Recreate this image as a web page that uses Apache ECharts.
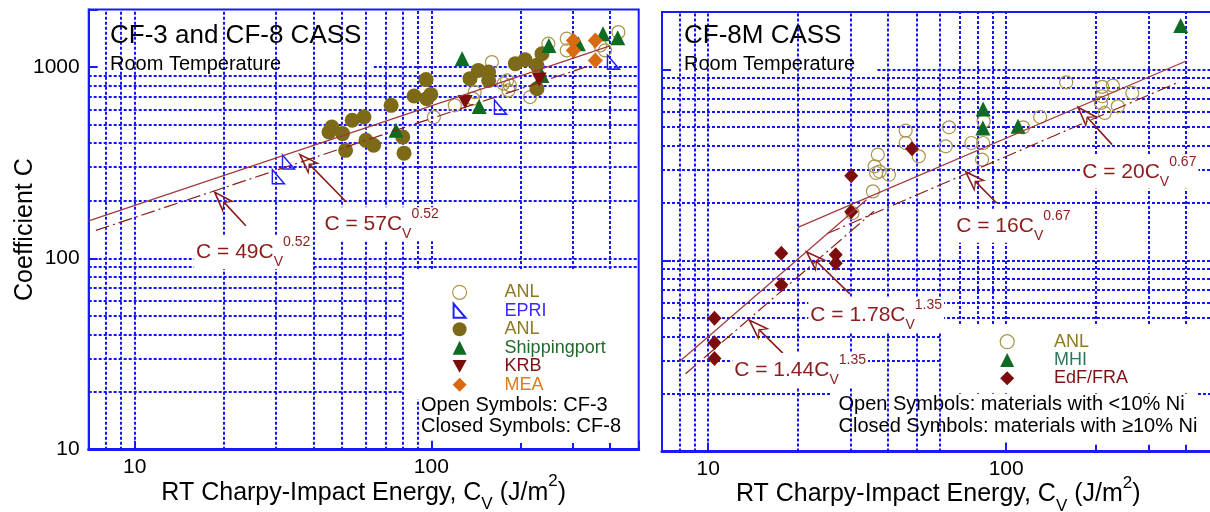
<!DOCTYPE html>
<html><head><meta charset="utf-8">
<script src="https://cdn.jsdelivr.net/npm/echarts@6/dist/echarts.min.js"></script>
<style>html,body{margin:0;padding:0;background:#fff}#c{width:1210px;height:512px}</style>
</head><body><div id="c"></div>
<script>
// ---------------- data ----------------
const xTickLabels = [10, 100];
const yTickLabelsLeft = [10, 100, 1000];

// Left panel: CF-3 and CF-8
const anlOpenCF3 = [[160,1062],[140,740],[138,684],[120,631],[102,548],[180,852],[184,802],[182,755],[175,819],[215,697],[248,1325],[286,1407],[286,1222],[371,1298],[427,1523],[385,1222]];
const epri = [[171,618],[411,1062],[33,319],[30.5,267]];
const anlFilledCF8 = [[45.2,458],[50.2,449],[54.1,527],[59.3,548],[60.2,414],[63.9,390],[51.4,367],[73.2,631],[80.1,431],[80.9,355],[46.2,486],[87.5,706],[96,860],[96.5,684],[99.6,720],[135,870],[144,961],[156,942],[156,852],[192,1042],[207,1093],[227,1021],[236,1175],[227,771]];
const shippingport = [[127,1106],[145,623],[249,1298],[236,905],[313,1325],[379,1494],[425,1424],[76,467]];
const krb = [[130,656],[231,860]];
const mea = [[301,1379],[301,1222],[357,1379],[357,1084]];

// Right panel: CF-8M
const anlOpenCF8M = [[159,857],[210,811],[228,823],[265,754],[210,724],[208,668],[237,641],[214,592],[130,564],[114,498],[84,535],[83.7,412],[83,337],[76.4,412],[64.3,498],[62.7,396],[46,478],[46,412],[50.9,351],[37.1,358],[36.2,311],[40.4,281],[36.6,287],[35.7,230],[37.6,292],[30.5,177]];
const mhi = [[385,1699],[83.7,621],[83.5,494],[109.6,504]];
const edf = [[48.3,385],[30.2,278],[30.2,180],[17.6,109],[26.8,107],[26.8,96.8],[17.6,74.5],[10.5,49.8],[10.5,37.1],[10.5,30.7]];

// Fit lines (end points)
const fit57 = [[7,157],[400,1290]];
const fit49 = [[7.4,140],[340,1015]];
const fit20 = [[20,149],[400,1105]];
const fit16 = [[25,138],[380,860]];
const fit178 = [[8,29.5],[34,208]];
const fit144 = [[8.4,25.5],[36,181]];

// Annotation anchors (text start, arrow tail -> arrow head)
const label57 = [42.8,151], arrow57 = [[51.7,197],[39.0,308]];
const label49 = [15.8,108], arrow49 = [[23.7,148],[20.1,195]];
const label20 = [176.5,291], arrow20 = [[226.6,404],[188,557]];
const label16 = [66.7,152], arrow16 = [[92.9,200],[79.2,257]];
const label178 = [21.6,51.9], arrow178 = [[29.9,66.8],[23.2,98.1]];
const label144 = [12.0,26.7], arrow144 = [[17.8,32.7],[14.9,43.0]];

// Grid line values
const leftVFull = [8,9,10,20,30,40,50,60,70,80];
const leftVUpper = [90,100,200,300,400];
const leftHFull = [90,100,200,300,400,500,600,700,800,900];
const leftHLower = [20,30,40,50,60,70,80];
const leftBottomTicks = [100,200,300,400];
const rightVFull = [8,9,10,20,30,40,50,60];
const rightVUpper = [70,80,90,100,200,300,400];
const rightHFull = [50,60,70,80,90,100,200,300,400,500,600,700,800,900];
const rightHLower = [30,40];
const rightBottomTicks = [200,300,400];

// ---------------- styling ----------------
const FONT = '"Liberation Sans", Arial, Helvetica, sans-serif';
const GRIDC = '#1414ff';
const AXC = '#1a1aff';
const FITC = '#8b1c1c';
const OLIVE = '#7d6a18';
const OLIVE_OPEN = '#a8964c';
const GREEN = '#0f6a22';
const DRED = '#7d0c0c';
const ORANGE = '#d96a12';
const EPRIC = '#2020ff';
const ARROW = 'path://M0,0 L8,23 L0,17 L-8,23 Z M0,5 L-5.2,19.8 L0,15 L5.2,19.8 Z M0,34 L0,34';
const DOWN_TRI = 'path://M0,0 L12,0 L6,11 Z';

function labelFmt(list){ return function(v){ for (const t of list){ if (Math.abs(v - t) < 1e-6 * t) return String(t); } return ''; }; }

function vLine(x, y0, y1){ return [{coord:[x,y0]},{coord:[x,y1]}]; }
function hLine(y, x0, x1){ return [{coord:[x0,y]},{coord:[x1,y]}]; }

const FRICH = {
  m:{fontSize:21, lineHeight:34, verticalAlign:'middle', color:FITC, fontFamily:FONT},
  s:{fontSize:14, lineHeight:14, verticalAlign:'bottom', color:FITC, fontFamily:FONT},
  p:{fontSize:14, lineHeight:18, verticalAlign:'top', color:FITC, fontFamily:FONT}
};
const NRICH = {
  m:{fontSize:25, lineHeight:40, verticalAlign:'middle', color:'#000', fontFamily:FONT},
  s:{fontSize:17, lineHeight:17, verticalAlign:'bottom', color:'#000', fontFamily:FONT},
  p:{fontSize:17, lineHeight:27, verticalAlign:'top', color:'#000', fontFamily:FONT}
};

function makeX(gi){
  return {
    type:'log', logBase:10, gridIndex:gi, min:7, max:500,
    splitLine:{show:false}, minorTick:{show:false},
    axisLine:{show:true, lineStyle:{color:AXC, width:3}},
    axisTick:{show:true, inside:true, length:9, lineStyle:{color:AXC, width:2}},
    axisLabel:{formatter:labelFmt(xTickLabels), fontSize:21, color:'#000', fontFamily:FONT, margin:7},
    name:'{m|RT Charpy-Impact Energy, C}{s|V}{m| (J/m}{p|2}{m|)}',
    nameLocation:'middle', nameGap:23, nameMoveOverlap:false,
    nameTextStyle:{rich:NRICH}
  };
}
function makeY(gi, labels){
  return {
    type:'log', logBase:10, gridIndex:gi, min:10, max:2000,
    splitLine:{show:false},
    axisLine:{show:true, lineStyle:{color:AXC, width:2}},
    axisTick:{show:true, inside:true, length:9, lineStyle:{color:AXC, width:2}},
    axisLabel:{show:labels, formatter:labelFmt(yTickLabelsLeft), fontSize:21, color:'#000', fontFamily:FONT, margin:9},
    name: labels ? 'Coefficient C' : '',
    nameLocation:'middle', nameGap:51, nameMoveOverlap:false,
    nameTextStyle:{fontSize:25, color:'#000', fontFamily:FONT}
  };
}

function gridSeries(gi, lines, ticks){
  return {
    type:'line', xAxisIndex:gi, yAxisIndex:gi, data:[], silent:true,
    markLine:{
      silent:true, z:1, symbol:['none','none'], label:{show:false}, animation:false,
      lineStyle:{color:GRIDC, width:2, type:[3,2]},
      emphasis:{disabled:true},
      data: lines.concat(ticks.map(t => {
        const seg = vLine(t, 10, 10.85);
        seg[0].lineStyle = {type:'solid', width:2, color:AXC};
        return seg;
      }))
    }
  };
}

function fitSeries(gi, name, data, style, labelPos, labelText, arrow){
  return {
    type:'line', name:name, xAxisIndex:gi, yAxisIndex:gi, data:data,
    showSymbol:false, symbol:'none', silent:true, z:3,
    lineStyle:style,
    markPoint:{
      silent:true, symbol:'circle', symbolSize:1, itemStyle:{color:'rgba(0,0,0,0)'},
      label:{show:true, position:'right', distance:0, formatter:function(){return labelText;},
             backgroundColor:'#fff', padding:[0,2], rich:FRICH},
      data:[{coord:labelPos}]
    },
    markLine:{
      silent:true, symbol:['none', ARROW], symbolSize:[16,34], label:{show:false},
      lineStyle:{color:FITC, width:1.6, type:'solid'},
      emphasis:{disabled:true},
      data:[[{coord:arrow[0]},{coord:arrow[1]}]]
    }
  };
}

const solidFit = {color:'#a03a3a', width:1.2, type:'solid'};
const dashFit = {color:'#8b1c1c', width:1.2, type:[14,4,2,4]};

// grid line sets
const leftLines = []
  .concat(leftVFull.map(x => vLine(x, 10, 2000)))
  .concat(leftVUpper.map(x => vLine(x, 88, 2000)))
  .concat([vLine(90, 10, 18.3)])
  .concat(leftHFull.map(y => hLine(y, 7, 500)))
  .concat(leftHLower.map(y => hLine(y, 7, 80)))
  .concat([hLine(1000, 64, 500)]);
const rightLines = []
  .concat(rightVFull.map(x => vLine(x, 10, 2000)))
  .concat(rightVUpper.map(x => vLine(x, 20, 2000)))
  .concat(rightHFull.map(y => hLine(y, 7, 500)))
  .concat(rightHLower.map(y => hLine(y, 7, 60)))
  .concat([hLine(20, 7, 26), hLine(20, 440, 500), hLine(1000, 37, 500)]);

const openCircle = (c) => ({color:'rgba(255,255,255,0)', borderColor:c, borderWidth:1.2, opacity:1});
const solid = (c) => ({color:c, opacity:1});

const series = [
  gridSeries(0, leftLines, leftBottomTicks),
  gridSeries(1, rightLines, rightBottomTicks),
  {type:'scatter', name:'ANL (CF-3)', xAxisIndex:0, yAxisIndex:0, data:anlOpenCF3, symbol:'circle', symbolSize:13, itemStyle:openCircle(OLIVE_OPEN), z:2},
  {type:'scatter', name:'EPRI', xAxisIndex:0, yAxisIndex:0, data:epri, symbol:'path://M0,0 L0,14 L12,14 Z', symbolSize:[12,14], itemStyle:{color:'rgba(255,255,255,0)', borderColor:EPRIC, borderWidth:1.5, opacity:1}, z:2},
  {type:'scatter', name:'ANL (CF-8)', xAxisIndex:0, yAxisIndex:0, data:anlFilledCF8, symbol:'circle', symbolSize:15, itemStyle:solid(OLIVE), z:2},
  {type:'scatter', name:'Shippingport', xAxisIndex:0, yAxisIndex:0, data:shippingport, symbol:'triangle', symbolSize:15, itemStyle:solid(GREEN), z:2},
  {type:'scatter', name:'KRB', xAxisIndex:0, yAxisIndex:0, data:krb, symbol:DOWN_TRI, symbolSize:[15,14], itemStyle:solid(DRED), z:2},
  {type:'scatter', name:'MEA', xAxisIndex:0, yAxisIndex:0, data:mea, symbol:'diamond', symbolSize:[15,16], itemStyle:solid(ORANGE), z:2},
  {type:'scatter', name:'ANL (CF-8M)', xAxisIndex:1, yAxisIndex:1, data:anlOpenCF8M, symbol:'circle', symbolSize:13, itemStyle:openCircle(OLIVE_OPEN), z:2},
  {type:'scatter', name:'MHI', xAxisIndex:1, yAxisIndex:1, data:mhi, symbol:'triangle', symbolSize:15, itemStyle:solid(GREEN), z:2},
  {type:'scatter', name:'EdF/FRA', xAxisIndex:1, yAxisIndex:1, data:edf, symbol:'diamond', symbolSize:[14,15], itemStyle:solid(DRED), z:2},
  fitSeries(0, 'fit57', fit57, solidFit, label57, '{m|C = 57C}{s|V}{p|0.52}', arrow57),
  fitSeries(0, 'fit49', fit49, dashFit, label49, '{m|C = 49C}{s|V}{p|0.52}', arrow49),
  fitSeries(1, 'fit20', fit20, solidFit, label20, '{m|C = 20C}{s|V}{p|0.67}', arrow20),
  fitSeries(1, 'fit16', fit16, dashFit, label16, '{m|C = 16C}{s|V}{p|0.67}', arrow16),
  fitSeries(1, 'fit178', fit178, solidFit, label178, '{m|C = 1.78C}{s|V}{p|1.35}', arrow178),
  fitSeries(1, 'fit144', fit144, dashFit, label144, '{m|C = 1.44C}{s|V}{p|1.35}', arrow144)
];

function legendBase(textPad){
  return {
    orient:'vertical', selectedMode:false, itemHeight:14, itemWidth:14, symbolKeepAspect:true,
    textStyle:{fontSize:18, fontFamily:FONT, padding:[0,0,0,textPad]},
    formatter:function(n){ return n.replace(/ \(.*\)$/, ''); }
  };
}

function txt(x, y, s, size){
  return {type:'text', x:x, y:y, silent:true, z:10,
    style:{text:s, fontSize:size, fontFamily:FONT, fill:'#000', verticalAlign:'middle', align:'left'}};
}

const option = {
  animation:false,
  backgroundColor:'#fff',
  textStyle:{fontFamily:FONT},
  grid:[
    {left:88.7, top:9.5, width:550, height:440.2, show:true, borderColor:AXC, borderWidth:2, backgroundColor:'transparent', containLabel:false, outerBoundsMode:'none'},
    {left:662, top:12, width:552.5, height:439.4, show:true, borderColor:AXC, borderWidth:2, backgroundColor:'transparent', containLabel:false, outerBoundsMode:'none'}
  ],
  xAxis:[makeX(0), makeX(1)],
  yAxis:[makeY(0, true), makeY(1, false)],
  legend:[
    Object.assign(legendBase(33), {
      left:452, top:283.3, itemGap:0.5, padding:0,
      data:[
        {name:'ANL (CF-3)', textStyle:{color:'#8d7a22'}, itemStyle:openCircle(OLIVE_OPEN)},
        {name:'EPRI', textStyle:{color:'#3b2bff'}},
        {name:'ANL (CF-8)', textStyle:{color:'#8d7a22'}},
        {name:'Shippingport', textStyle:{color:'#1f6b2a'}},
        {name:'KRB', textStyle:{color:'#7e1212'}},
        {name:'MEA', textStyle:{color:'#e07a1e'}}
      ]
    }),
    Object.assign(legendBase(34.7), {
      left:942.6, top:324.7, itemGap:0.3, padding:[8,70,6,57], backgroundColor:'#fff',
      data:[
        {name:'ANL (CF-8M)', textStyle:{color:'#8d7a22'}, itemStyle:openCircle(OLIVE_OPEN)},
        {name:'MHI', textStyle:{color:'#2a7a5a'}},
        {name:'EdF/FRA', textStyle:{color:'#7e1212'}}
      ]
    })
  ],
  graphic:[
    txt(110, 36, 'CF-3 and CF-8 CASS', 26),
    txt(110, 64, 'Room Temperature', 20),
    txt(684, 36, 'CF-8M CASS', 26),
    txt(684, 64, 'Room Temperature', 20),
    txt(421, 405, 'Open Symbols: CF-3', 20),
    txt(421, 426.7, 'Closed Symbols: CF-8', 20),
    txt(838.5, 404.3, 'Open Symbols: materials with <10% Ni', 20),
    txt(838.5, 426.7, 'Closed Symbols: materials with \u226510% Ni', 20)
  ],
  series:series
};

const chart = echarts.init(document.getElementById('c'), null, {renderer:'canvas'});
chart.setOption(option);
</script>
</body></html>
